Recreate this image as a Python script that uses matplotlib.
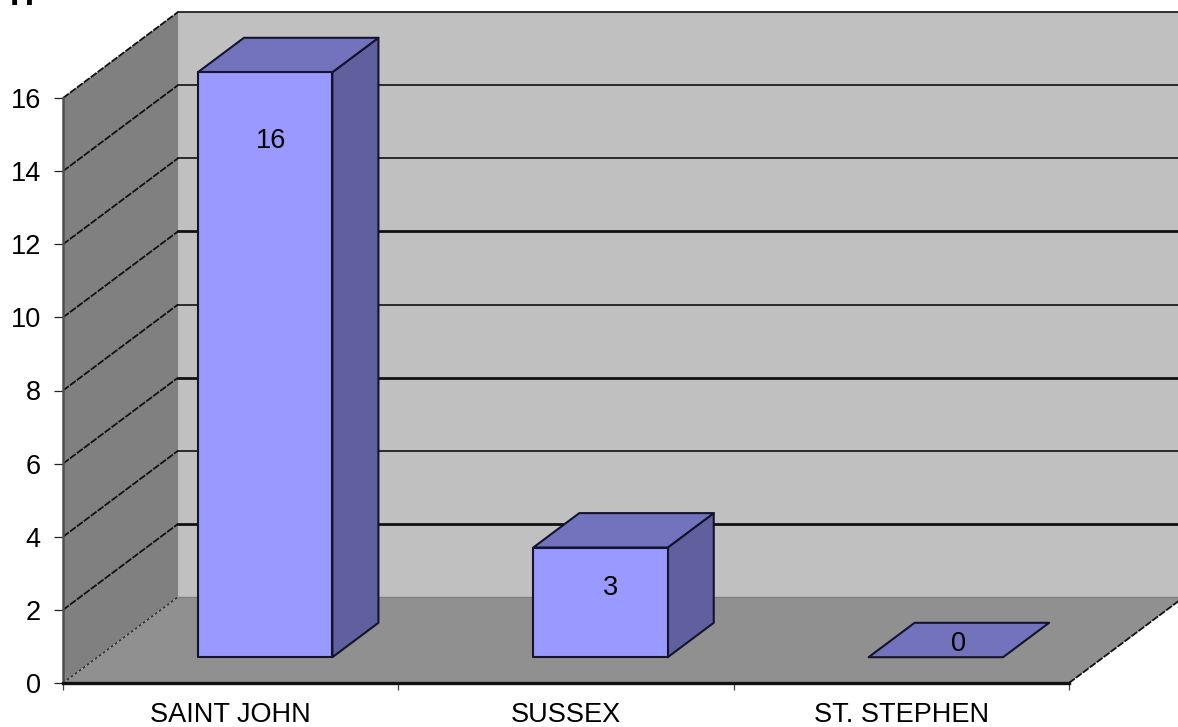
import matplotlib
matplotlib.use('Agg')
import matplotlib.pyplot as plt
from matplotlib.patches import Polygon

plt.rcParams['font.family'] = ['Liberation Sans', 'DejaVu Sans']

# dados
cidades = ['SAINT JOHN', 'SUSSEX', 'ST. STEPHEN']
valores = [16, 3, 0]
ticks_y = [0, 2, 4, 6, 8, 10, 12, 14, 16]

# cores
COR_FRENTE = '#9999ff'
COR_TOPO = '#7373bd'
COR_LADO = '#60609f'
COR_PAREDE_ESQ = '#808080'
COR_FUNDO = '#c0c0c0'
COR_CHAO = '#909090'

# geometria da "3D" falsa, em unidades dos eixos
PROF_X = 0.343     # deslocamento da parede de fundo
PROF_Y = 2.352
FRAC_FRENTE = 0.30 # onde a barra começa dentro da profundidade
FRAC_TRAS = 0.70
LARG = 0.401
FONTE = 19.5
label_x = [0.619, 1.633, 2.671]  # posição dos rótulos
label_y = [14.83, 2.60, 1.07]


def proj(x, y, f):
    # f = 0 plano da frente, f = 1 parede de fundo
    return (x + PROF_X * f, y + PROF_Y * f)


def face(ax, pontos, cor, z, lw=1.5):
    ax.add_patch(Polygon(pontos, closed=True, facecolor=cor, edgecolor='#14142e',
                         linewidth=lw, zorder=z, clip_on=False, joinstyle='round'))


fig = plt.figure(figsize=(11.78, 7.27), dpi=100)
ax = fig.add_axes([63 / 1178, 1 - 683 / 727, 1006 / 1178, 585 / 727])
ax.set_xlim(0, 3)
ax.set_ylim(0, 16)
ax.patch.set_visible(False)

XMAX = 3.4

# paredes e chão
ax.add_patch(Polygon([proj(0, 0, 1), (XMAX, PROF_Y), (XMAX, 16 + PROF_Y), proj(0, 16, 1)],
                     facecolor=COR_FUNDO, edgecolor='none', zorder=1, clip_on=False))
ax.add_patch(Polygon([proj(0, 0, 0), proj(0, 0, 1), proj(0, 16, 1), proj(0, 16, 0)],
                     facecolor=COR_PAREDE_ESQ, edgecolor='none', zorder=1, clip_on=False))
ax.add_patch(Polygon([proj(0, 0, 0), proj(3, 0, 0), proj(3, 0, 1), (XMAX, PROF_Y), proj(0, 0, 1)],
                     facecolor=COR_CHAO, edgecolor='none', zorder=2, clip_on=False))

# grades
for v in ticks_y[1:]:
    lw = 2.0 if v in (2, 6, 10) else 1.2
    x0, y0 = proj(0, v, 0)
    x1, y1 = proj(0, v, 1)
    ax.plot([x0, x1], [y0, y1], color='#111111', lw=1.3, ls=(0, (4, 0.8)), zorder=3, clip_on=False)
    ax.plot([x1, XMAX], [y1, y1], color='#111111', lw=lw, zorder=3, clip_on=False)

x0, y0 = proj(0, 0, 0)
x1, y1 = proj(0, 0, 1)
ax.plot([x0, x1], [y0, y1], color='#333333', lw=1.2, ls=(0, (1.5, 1.5)), zorder=3, clip_on=False)
x2, y2 = proj(3, 0, 1)
ax.plot([3, x2], [0, y2], color='#111111', lw=1.3, ls=(0, (4, 0.8)), zorder=3, clip_on=False)
ax.plot([x1, XMAX], [y1, y1], color='#808080', lw=1.0, zorder=3, clip_on=False)

# barras
for i, (nome, v) in enumerate(zip(cidades, valores)):
    esq = i + (1 - LARG) / 2
    dir_ = esq + LARG
    if v > 0:
        face(ax, [proj(esq, 0, FRAC_FRENTE), proj(dir_, 0, FRAC_FRENTE),
                  proj(dir_, v, FRAC_FRENTE), proj(esq, v, FRAC_FRENTE)], COR_FRENTE, 6)
        face(ax, [proj(dir_, 0, FRAC_FRENTE), proj(dir_, 0, FRAC_TRAS),
                  proj(dir_, v, FRAC_TRAS), proj(dir_, v, FRAC_FRENTE)], COR_LADO, 5)
    face(ax, [proj(esq, v, FRAC_FRENTE), proj(dir_, v, FRAC_FRENTE),
              proj(dir_, v, FRAC_TRAS), proj(esq, v, FRAC_TRAS)], COR_TOPO, 5)
    ax.text(label_x[i], label_y[i], str(v), ha='center', va='center', fontsize=FONTE, color='black', zorder=8)

# eixos
for lado in ['top', 'right']:
    ax.spines[lado].set_visible(False)
ax.spines['left'].set_color('#505050')
ax.spines['left'].set_linewidth(1.8)
ax.spines['bottom'].set_color('#111111')
ax.spines['bottom'].set_linewidth(2.4)
ax.spines['left'].set_zorder(4)
ax.spines['bottom'].set_zorder(4)

ax.set_yticks(ticks_y)
ax.tick_params(axis='y', length=6.5, width=0.9, pad=9.5, labelsize=FONTE, color='#222222')
ax.set_xticks([0, 1, 2, 3])
ax.set_xticklabels([])
ax.tick_params(axis='x', which='major', length=5, width=0.9, color='#444444')
ax.set_xticks([0.5, 1.5, 2.5], minor=True)
ax.set_xticklabels(cidades, minor=True, fontsize=FONTE)
ax.tick_params(axis='x', which='minor', length=0, pad=14)

# resto do título cortado no topo
fig.text(22 / 1178, 1 - 5 / 727, 'H', fontsize=24, fontweight='bold', ha='center', va='baseline')

fig.savefig('out.png', dpi=100)
